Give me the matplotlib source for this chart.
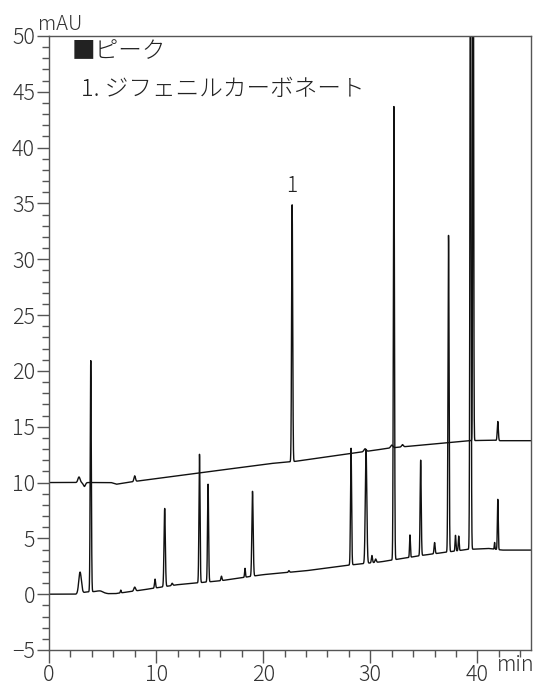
import numpy as np
import matplotlib
matplotlib.use('Agg')
import matplotlib.pyplot as plt
from matplotlib.ticker import MultipleLocator

plt.rcParams['font.family'] = ['Noto Sans CJK JP', 'DejaVu Sans']
plt.rcParams['font.weight'] = 'light'

# baseline knots (min, mAU) for the lower trace (sample)
low_base_t = [0, 2.5, 3.5, 4.5, 5.5, 6.2, 8.5, 12, 16, 20, 24, 27.5, 31, 35, 39, 41, 42.3, 45]
low_base_y = [0, 0, 0.2, 0.25, 0.05, 0.05, 0.35, 0.85, 1.2, 1.75, 2.1, 2.55, 2.9, 3.5, 4.0, 4.1, 3.95, 3.95]

# peak table for the lower trace: retention time, height above baseline, sigma
low_rt = [2.9, 3.9, 4.8, 6.7, 8.0, 9.9, 10.8, 11.5, 14.05, 14.85, 16.1, 18.3, 19.0, 22.4,
          28.2, 29.6, 30.15, 30.5, 32.2, 33.7, 34.7, 36.0, 37.3, 37.95, 38.25, 39.35, 41.6, 41.9]
low_h = [1.9, 20.7, 0.1, 0.25, 0.35, 0.8, 7.0, 0.2, 11.5, 8.75, 0.4, 0.8, 7.6, 0.15,
         10.45, 10.2, 0.65, 0.3, 40.6, 2.0, 8.55, 1.0, 28.35, 1.4, 1.3, 60.0, 0.6, 4.5]
low_w = [0.12, 0.05, 0.2, 0.04, 0.08, 0.05, 0.06, 0.06, 0.05, 0.05, 0.05, 0.04, 0.06, 0.05,
         0.05, 0.07, 0.05, 0.06, 0.05, 0.04, 0.05, 0.05, 0.05, 0.04, 0.04, 0.05, 0.03, 0.04]

# upper trace (standard, offset +10 mAU)
up_base_t = [0, 2.5, 5.8, 6.3, 8, 12, 20.65, 23, 31.9, 39.3, 41.5, 42.1, 45]
up_base_y = [10, 10, 10, 9.85, 10.1, 10.6, 11.7, 11.9, 13.1, 13.75, 13.8, 13.75, 13.75]
up_rt = [2.8, 3.3, 8.0, 22.7, 29.5, 32.0, 33.0, 39.6, 41.9]
up_h = [0.5, -0.35, 0.5, 23.0, 0.25, 0.25, 0.2, 60.0, 1.7]
up_w = [0.1, 0.1, 0.07, 0.05, 0.1, 0.1, 0.08, 0.04, 0.05]

t = np.linspace(0, 45, 9001)

def trace(bt, by, rt, h, w):
    y = np.interp(t, bt, by)
    for r, a, s in zip(rt, h, w):
        y = y + a*np.exp(-0.5*((t - r)/s)**2)
    return y

lower = trace(low_base_t, low_base_y, low_rt, low_h, low_w)
upper = trace(up_base_t, up_base_y, up_rt, up_h, up_w)

fig = plt.figure(figsize=(5.39, 6.86), dpi=100)
ax = fig.add_axes([49/539, 1 - 650/686, (531 - 49)/539, (650 - 36)/686])

ax.plot(t, lower, color='#111111', lw=1.0)
ax.plot(t, upper, color='#111111', lw=1.0)

ax.set_xlim(0, 45)
ax.set_ylim(-5, 50)
ax.xaxis.set_major_locator(MultipleLocator(10))
ax.xaxis.set_minor_locator(MultipleLocator(2))
ax.yaxis.set_major_locator(MultipleLocator(5))
ax.yaxis.set_minor_locator(MultipleLocator(1))
ax.tick_params(which='major', length=9, width=1, color='#555555', labelcolor='#333333',
               labelsize=15.5, pad=1)
ax.tick_params(which='minor', length=5, width=1, color='#555555')
for sp in ax.spines.values():
    sp.set_color('#555555')
    sp.set_linewidth(1)

fig.text(38/539, 1 - 24/686, 'mAU', fontsize=14.5, va='center', ha='left', color='#333333')
fig.text(497/539, 1 - 665/686, 'min', fontsize=15.5, va='center', ha='left', color='#333333')

ax.text(2.1, 48.6, '■ピーク', fontsize=17, va='center', ha='left', color='#222222')
ax.text(3.0, 45.2, '1. ジフェニルカーボネート', fontsize=17, va='center', ha='left', color='#222222')
ax.text(22.7, 36.6, '1', fontsize=15, va='center', ha='center', color='#222222')

fig.savefig('out.png', dpi=100)
